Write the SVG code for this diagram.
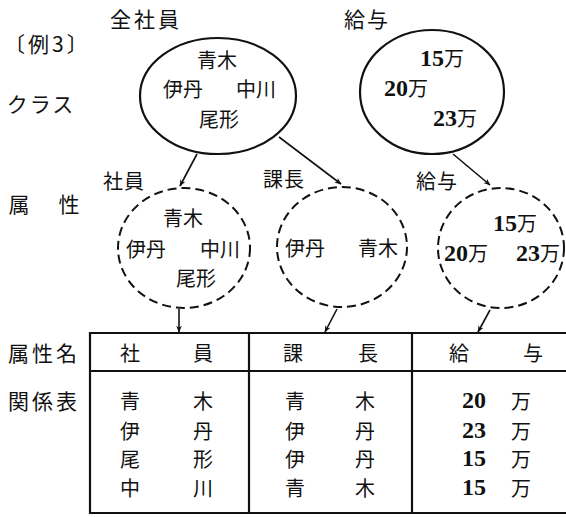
<svg xmlns="http://www.w3.org/2000/svg" width="566" height="517" viewBox="0 0 566 517">
<style>
.t{font-family:"Noto Sans CJK JP","Noto Sans",sans-serif;font-size:20px;fill:#111;text-anchor:middle;dominant-baseline:central}
.lbl{font-size:21px}
.num{font-family:"Liberation Serif","Noto Sans CJK JP",serif;font-weight:bold;font-size:24px;fill:#111;text-anchor:middle}
.m{font-family:"Noto Sans CJK JP",sans-serif;font-weight:normal;font-size:20px}
.solid{fill:none;stroke:#111;stroke-width:2.2}
.dash{fill:none;stroke:#111;stroke-width:2;stroke-dasharray:9 5}
.line{stroke:#111;stroke-width:1.6;fill:none}
.tb{stroke:#111;stroke-width:2.2;fill:none}
</style>
<defs>
<marker id="ah" viewBox="0 0 10 10" refX="9" refY="5" markerWidth="7" markerHeight="7" orient="auto-start-reverse" markerUnits="userSpaceOnUse">
<path d="M0,1 L10,5 L0,9 L3,5 Z" fill="#111"/>
</marker>
</defs>

<g id="labels">
<text class="t lbl" x="4" y="43" letter-spacing="3" text-anchor="start" style="text-anchor:start">〔例3〕</text>
<text class="t lbl" x="41" y="103" letter-spacing="2">クラス</text>
<text class="t lbl" x="19" y="203">属</text>
<text class="t lbl" x="69" y="203">性</text>
<text class="t lbl" x="44" y="352" letter-spacing="3">属性名</text>
<text class="t lbl" x="44" y="400" letter-spacing="3">関係表</text>
</g>

<g id="class-zenshain">
<text class="t lbl" x="146" y="18" letter-spacing="3">全社員</text>
<ellipse class="solid" cx="218" cy="96" rx="78" ry="58"/>
<text class="t" x="217" y="59">青木</text>
<text class="t" x="183" y="88">伊丹</text>
<text class="t" x="256" y="88">中川</text>
<text class="t" x="219" y="118">尾形</text>
</g>

<g id="class-kyuyo">
<text class="t lbl" x="367" y="18" letter-spacing="2">給与</text>
<ellipse class="solid" cx="432" cy="92" rx="72" ry="62"/>
<text class="num" x="442" y="66">15<tspan class="m">万</tspan></text>
<text class="num" x="406" y="96">20<tspan class="m">万</tspan></text>
<text class="num" x="455" y="126">23<tspan class="m">万</tspan></text>
</g>

<g id="attr-shain">
<text class="t" x="124" y="180" letter-spacing="1">社員</text>
<ellipse class="dash" cx="184" cy="248" rx="66" ry="60"/>
<text class="t" x="183" y="217">青木</text>
<text class="t" x="146" y="248">伊丹</text>
<text class="t" x="220" y="248">中川</text>
<text class="t" x="196" y="277">尾形</text>
</g>

<g id="attr-kacho">
<text class="t" x="284" y="178" letter-spacing="1">課長</text>
<ellipse class="dash" cx="342" cy="247" rx="65" ry="60"/>
<text class="t" x="305" y="247">伊丹</text>
<text class="t" x="378" y="247">青木</text>
</g>

<g id="attr-kyuyo">
<text class="t" x="437" y="180" letter-spacing="1">給与</text>
<ellipse class="dash" cx="501" cy="248" rx="63" ry="60"/>
<text class="num" x="515" y="231">15<tspan class="m">万</tspan></text>
<text class="num" x="466" y="261">20<tspan class="m">万</tspan></text>
<text class="num" x="538" y="261">23<tspan class="m">万</tspan></text>
</g>

<g id="connectors">
<line class="line" x1="197" y1="154" x2="180" y2="186" marker-end="url(#ah)"/>
<line class="line" x1="279" y1="137" x2="341" y2="184" marker-end="url(#ah)"/>
<line class="line" x1="453" y1="154" x2="490" y2="185" marker-end="url(#ah)"/>
<line class="line" x1="179" y1="309" x2="179" y2="332" marker-end="url(#ah)"/>
<line class="line" x1="337" y1="309" x2="325" y2="332" marker-end="url(#ah)"/>
<line class="line" x1="490" y1="310" x2="478" y2="332" marker-end="url(#ah)"/>
</g>

<g id="table">
<path class="tb" d="M566,333 H90 V513 H566 M90,371 H566 M249,333 V513 M412,333 V513"/>
<text class="t" x="130" y="352">社</text>
<text class="t" x="203" y="352">員</text>
<text class="t" x="293" y="352">課</text>
<text class="t" x="368" y="352">長</text>
<text class="t" x="459" y="352">給</text>
<text class="t" x="533" y="352">与</text>

<text class="t" x="130" y="400">青</text><text class="t" x="203" y="400">木</text>
<text class="t" x="130" y="430">伊</text><text class="t" x="203" y="430">丹</text>
<text class="t" x="130" y="458">尾</text><text class="t" x="203" y="458">形</text>
<text class="t" x="130" y="487">中</text><text class="t" x="203" y="487">川</text>

<text class="t" x="295" y="400">青</text><text class="t" x="365" y="400">木</text>
<text class="t" x="295" y="430">伊</text><text class="t" x="365" y="430">丹</text>
<text class="t" x="295" y="458">伊</text><text class="t" x="365" y="458">丹</text>
<text class="t" x="295" y="487">青</text><text class="t" x="365" y="487">木</text>

<text class="num" x="474" y="408">20</text><text class="t" x="521" y="400">万</text>
<text class="num" x="474" y="438">23</text><text class="t" x="521" y="430">万</text>
<text class="num" x="474" y="466">15</text><text class="t" x="521" y="458">万</text>
<text class="num" x="474" y="495">15</text><text class="t" x="521" y="487">万</text>
</g>
</svg>
